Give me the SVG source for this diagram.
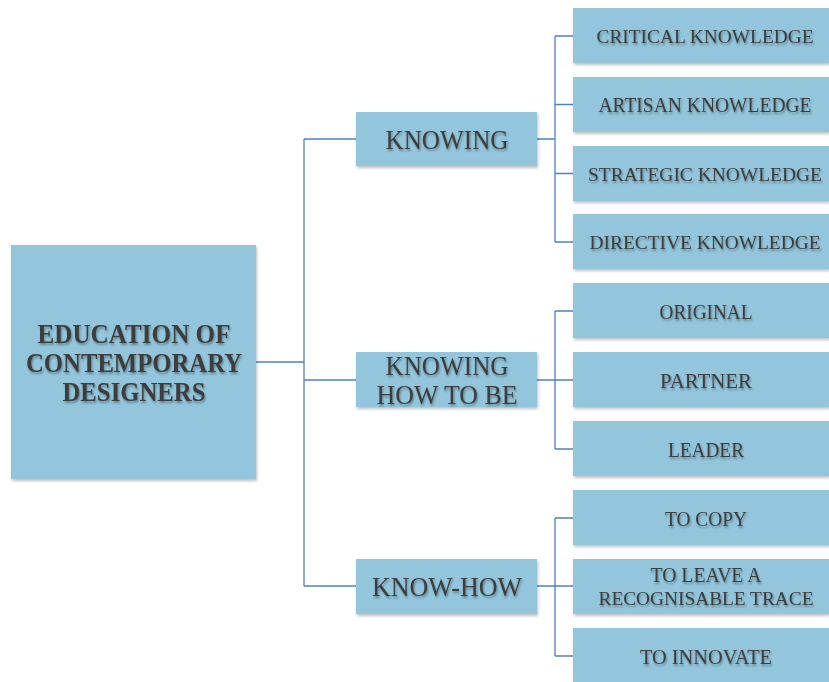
<svg xmlns="http://www.w3.org/2000/svg" width="829" height="682" viewBox="0 0 829 682">
<defs>
<filter id="bs" x="-10%" y="-10%" width="130%" height="140%">
<feDropShadow dx="1" dy="2" stdDeviation="1.5" flood-color="#000" flood-opacity="0.25"/>
</filter>
<filter id="ts" x="-10%" y="-30%" width="130%" height="180%">
<feDropShadow dx="1" dy="2" stdDeviation="1.2" flood-color="#000" flood-opacity="0.35"/>
</filter>
</defs>
<style>
.box{fill:#93c6dc;filter:url(#bs)}
.t{font-family:"Liberation Serif","Times New Roman",serif;fill:#3c3c3c;text-anchor:middle;filter:url(#ts)}
.s{font-size:21px}
.l{font-size:19px}
.m{font-size:27px}
.b{font-size:28px;font-weight:bold}
.c{fill:none;stroke:#4f81bd;stroke-width:1.3}
</style>
<g id="connectors">
<path class="c" d="M256 362H304M304 139V586M304 139H356M304 380H356M304 586H356"/>
<path class="c" d="M537 139H555M555 36V242M555 36H573M555 104.5H573M555 173.5H573M555 242H573"/>
<path class="c" d="M537 380H555M555 311V449M555 311H573M555 380H573M555 449H573"/>
<path class="c" d="M537 586H555M555 518V656M555 518H573M555 586H573M555 656H573"/>
</g>
<g id="root">
<rect class="box" x="11" y="245" width="245" height="234"/>
<text class="t b" x="134" y="343" textLength="193" lengthAdjust="spacingAndGlyphs">EDUCATION OF</text>
<text class="t b" x="134" y="372" textLength="216" lengthAdjust="spacingAndGlyphs">CONTEMPORARY</text>
<text class="t b" x="134" y="401" textLength="143" lengthAdjust="spacingAndGlyphs">DESIGNERS</text>
</g>
<g id="knowing">
<rect class="box" x="356" y="112" width="181" height="54"/>
<text class="t m" x="447" y="149" textLength="123" lengthAdjust="spacingAndGlyphs">KNOWING</text>
</g>
<g id="knowing-how-to-be">
<rect class="box" x="356" y="352" width="181" height="55"/>
<text class="t m" x="447" y="375" textLength="123" lengthAdjust="spacingAndGlyphs">KNOWING</text>
<text class="t m" x="447" y="404" textLength="141" lengthAdjust="spacingAndGlyphs">HOW TO BE</text>
</g>
<g id="know-how">
<rect class="box" x="356" y="559" width="181" height="55"/>
<text class="t m" x="447" y="596" textLength="150" lengthAdjust="spacingAndGlyphs">KNOW-HOW</text>
</g>
<g id="critical">
<rect class="box" x="573" y="8" width="256" height="55"/>
<text class="t l" x="705" y="43" textLength="217" lengthAdjust="spacingAndGlyphs">CRITICAL KNOWLEDGE</text>
</g>
<g id="artisan">
<rect class="box" x="573" y="77" width="256" height="55"/>
<text class="t s" x="705" y="112" textLength="213" lengthAdjust="spacingAndGlyphs">ARTISAN KNOWLEDGE</text>
</g>
<g id="strategic">
<rect class="box" x="573" y="146" width="256" height="55"/>
<text class="t l" x="705" y="181" textLength="234" lengthAdjust="spacingAndGlyphs">STRATEGIC KNOWLEDGE</text>
</g>
<g id="directive">
<rect class="box" x="573" y="214" width="256" height="55"/>
<text class="t l" x="705" y="249" textLength="231" lengthAdjust="spacingAndGlyphs">DIRECTIVE KNOWLEDGE</text>
</g>
<g id="original">
<rect class="box" x="573" y="283" width="256" height="55"/>
<text class="t s" x="706" y="319" textLength="93" lengthAdjust="spacingAndGlyphs">ORIGINAL</text>
</g>
<g id="partner">
<rect class="box" x="573" y="352" width="256" height="55"/>
<text class="t s" x="706" y="388" textLength="92" lengthAdjust="spacingAndGlyphs">PARTNER</text>
</g>
<g id="leader">
<rect class="box" x="573" y="421" width="256" height="55"/>
<text class="t s" x="706" y="457" textLength="76" lengthAdjust="spacingAndGlyphs">LEADER</text>
</g>
<g id="to-copy">
<rect class="box" x="573" y="490" width="256" height="55"/>
<text class="t s" x="706" y="526" textLength="82" lengthAdjust="spacingAndGlyphs">TO COPY</text>
</g>
<g id="to-leave">
<rect class="box" x="573" y="559" width="256" height="55"/>
<text class="t s" x="706" y="582" textLength="111" lengthAdjust="spacingAndGlyphs">TO LEAVE A</text>
<text class="t l" x="706" y="605" textLength="215" lengthAdjust="spacingAndGlyphs">RECOGNISABLE TRACE</text>
</g>
<g id="to-innovate">
<rect class="box" x="573" y="628" width="256" height="54"/>
<text class="t s" x="706" y="664" textLength="132" lengthAdjust="spacingAndGlyphs">TO INNOVATE</text>
</g>
</svg>
